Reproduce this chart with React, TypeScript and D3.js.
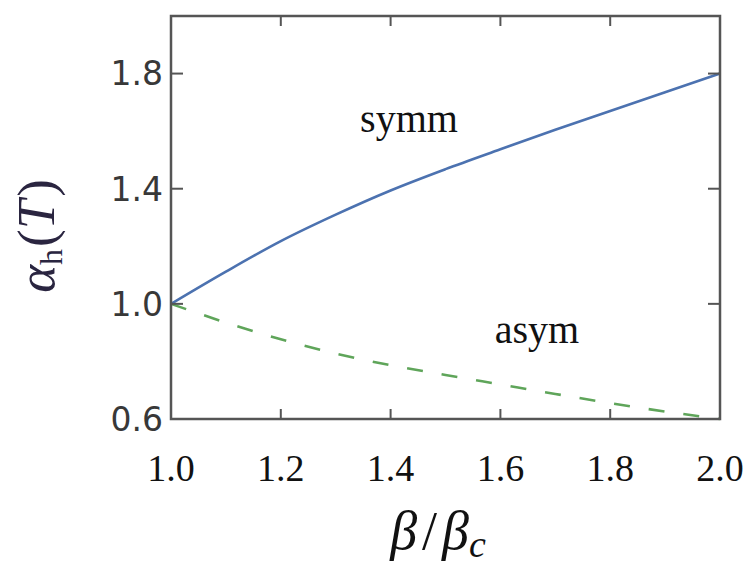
import React from "react";
import * as d3 from "d3";

const betaRatio = [1.0, 1.1, 1.2, 1.3, 1.4, 1.5, 1.6, 1.7, 1.8, 1.9, 2.0];
const symmValues = [1.0, 1.112, 1.218, 1.31, 1.394, 1.468, 1.537, 1.605, 1.67, 1.735, 1.8];
const asymValues = [1.0, 0.935, 0.877, 0.827, 0.787, 0.753, 0.72, 0.687, 0.655, 0.626, 0.6];
const xTicks = [1.0, 1.2, 1.4, 1.6, 1.8, 2.0];
const yTicks = [0.6, 1.0, 1.4, 1.8];
const xTickLabels = ["1.0", "1.2", "1.4", "1.6", "1.8", "2.0"];
const yTickLabels = ["0.6", "1.0", "1.4", "1.8"];

const W = 744;
const H = 564;
const left = 171;
const right = 720;
const top = 16;
const bottom = 419;

export default function App() {
  const x = d3.scaleLinear().domain([1.0, 2.0]).range([left, right]);
  const y = d3.scaleLinear().domain([0.6, 2.0]).range([bottom, top]);

  const line = d3
    .line<number>()
    .x((_, i) => x(betaRatio[i]))
    .y((d) => y(d))
    .curve(d3.curveMonotoneX);

  const axisColor = "#555";
  const serif = "'Liberation Serif', 'DejaVu Serif', serif";

  return (
    <svg
      width={W}
      height={H}
      viewBox={`0 0 ${W} ${H}`}
      style={{ position: "absolute", left: 0, top: 0, background: "#fff" }}
    >
      <rect x={0} y={0} width={W} height={H} fill="#fff" />
      {/* curves */}
      <path d={line(symmValues) || ""} fill="none" stroke="#4C72B0" strokeWidth={2.6} />
      <path
        d={line(asymValues) || ""}
        fill="none"
        stroke="#5FA55A"
        strokeWidth={2.6}
        strokeDasharray="16 19"
      />
      {/* frame */}
      <rect
        x={left}
        y={top}
        width={right - left}
        height={bottom - top}
        fill="none"
        stroke={axisColor}
        strokeWidth={2.5}
      />
      {/* x ticks */}
      {xTicks.map((t, i) => (
        <g key={"xt" + i}>
          <line x1={x(t)} x2={x(t)} y1={bottom} y2={bottom - 10} stroke={axisColor} strokeWidth={2} />
          <line x1={x(t)} x2={x(t)} y1={top} y2={top + 10} stroke={axisColor} strokeWidth={2} />
          <text
            x={x(t)}
            y={481}
            textAnchor="middle"
            fontFamily={serif}
            fontSize={38}
            fill="#111"
          >
            {xTickLabels[i]}
          </text>
        </g>
      ))}
      {/* y ticks */}
      {yTicks.map((t, i) => (
        <g key={"yt" + i}>
          <line x1={left} x2={left + 12} y1={y(t)} y2={y(t)} stroke={axisColor} strokeWidth={2} />
          <line x1={right} x2={right - 12} y1={y(t)} y2={y(t)} stroke={axisColor} strokeWidth={2} />
          <text
            x={163}
            y={y(t)}
            dy="0.36em"
            textAnchor="end"
            fontFamily="'DejaVu Sans', sans-serif"
            fontSize={33}
            fill="#383838"
          >
            {yTickLabels[i]}
          </text>
        </g>
      ))}
      {/* annotations */}
      <text x={409} y={132} textAnchor="middle" fontFamily={serif} fontSize={40} fill="#111">
        symm
      </text>
      <text x={537} y={343} textAnchor="middle" fontFamily={serif} fontSize={40} fill="#111">
        asym
      </text>
      {/* x label */}
      <text x={438} y={549} textAnchor="middle" fontFamily={serif} fontSize={54} fill="#111">
        <tspan fontStyle="italic">β</tspan>
        <tspan dx={5}>/</tspan>
        <tspan fontStyle="italic" dx={5}>β</tspan>
        <tspan fontStyle="italic" fontSize={38} dy={8}>c</tspan>
      </text>
      {/* y label */}
      <text
        transform="translate(54,236) rotate(-90)"
        textAnchor="middle"
        fontFamily={serif}
        fontSize={53}
        fill="#2a2540"
      >
        <tspan fontStyle="italic">α</tspan>
        <tspan fontSize={32} dy={8}>h</tspan>
        <tspan dy={-8} dx={2}>(</tspan>
        <tspan fontStyle="italic">T</tspan>
        <tspan dx={3}>)</tspan>
      </text>
    </svg>
  );
}
